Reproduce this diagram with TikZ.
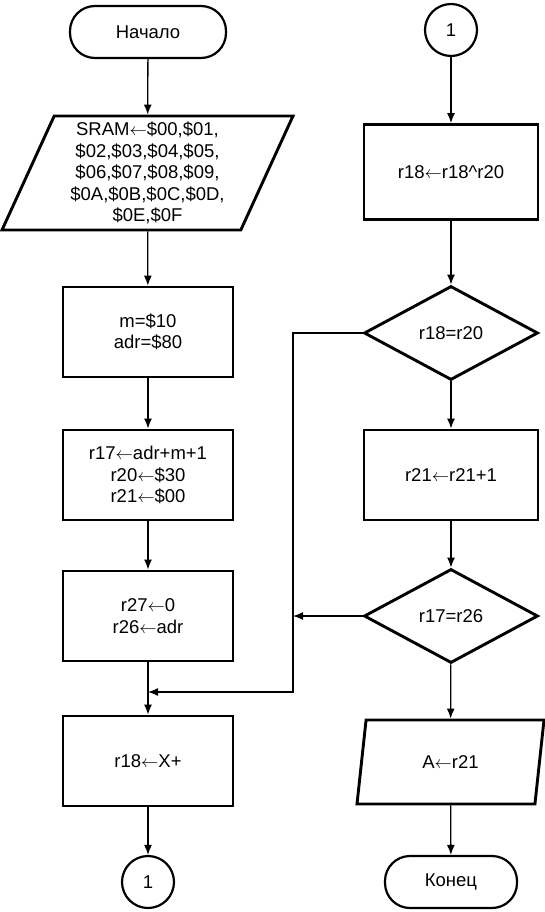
\documentclass[tikz,border=0pt]{standalone}
\usepackage{fontspec}
\setmainfont{Liberation Sans}
\usetikzlibrary{shapes.geometric,arrows.meta}

\newcommand{\la}{\ensuremath{\leftarrow}}

\tikzset{
  base/.style={draw,line width=2.9pt,align=center,inner sep=2pt,
    font=\fontsize{18.5}{21.5}\selectfont},
  proc/.style={base,rectangle,minimum width=170pt,minimum height=90pt},
  decis/.style={base,diamond,aspect=1.85,minimum width=174pt,minimum height=94pt},
  io/.style={base,trapezium,trapezium stretches body,
    trapezium left angle=#1,trapezium right angle=180-#1},
  term/.style={base,rectangle,rounded corners=25pt,line width=2.2pt,minimum width=156pt,minimum height=52pt},
  conn/.style={base,circle,line width=2.2pt,minimum size=52pt,inner sep=0pt},
  arr/.style={line width=1.3pt,-{Latex[length=10pt,width=8pt]}},
  ln/.style={line width=1.3pt}
}

\begin{document}
\begin{tikzpicture}[x=1pt,y=-1pt]
\useasboundingbox (0,0) rectangle (545,912);

% left column
\node[term] (start) at (148,32) {Начало};
\node[io=63.8,minimum width=291pt,minimum height=114pt] (sram) at (147.5,173)
  {SRAM\la\$00,\$01,\\\$02,\$03,\$04,\$05,\\\$06,\$07,\$08,\$09,\\\$0A,\$0B,\$0C,\$0D,\\\$0E,\$0F};
\node[proc] (init) at (148,332) {m=\$10\\adr=\$80};
\node[proc] (regs) at (148,475) {r17\la adr+m+1\\r20\la\$30\\r21\la\$00};
\node[proc] (ptr) at (148,616) {r27\la0\\r26\la adr};
\node[proc] (load) at (148,761) {r18\la X+};
\node[conn] (cA) at (148,882) {1};

% right column
\node[conn] (cB) at (451,30) {1};
\node[proc,minimum width=174pt,minimum height=95pt] (xor) at (451,172) {r18\la r18\textasciicircum r20};
\node[decis] (eq1) at (451,333) {r18=r20};
\node[proc,minimum width=174pt] (inc) at (451,475) {r21\la r21+1};
\node[decis] (eq2) at (451,616) {r17=r26};
\node[io=61.8,minimum width=187pt,minimum height=84pt] (out) at (450.5,762) {A\la r21};
\node[term,minimum width=132pt] (stop) at (451,882) {Конец};

\coordinate (jn) at (148,692);
\coordinate (bend) at (293,692);

\draw[arr] (start) -- (sram);
\draw[arr] (sram) -- (init);
\draw[arr] (init) -- (regs);
\draw[arr] (regs) -- (ptr);
\draw[ln] (ptr) -- (jn);
\draw[arr] (jn) -- (load);
\draw[arr] (load) -- (cA);

\draw[arr] (cB) -- (xor);
\draw[arr] (xor) -- (eq1);
\draw[arr] (eq1) -- (inc);
\draw[arr] (inc) -- (eq2);
\draw[arr] (eq2) -- (out);
\draw[arr] (out) -- (stop);

\draw[arr] (eq1.west) -| (bend) -- (jn);
\draw[arr] (eq2.west) -- (eq2.west -| bend);
\end{tikzpicture}
\end{document}
